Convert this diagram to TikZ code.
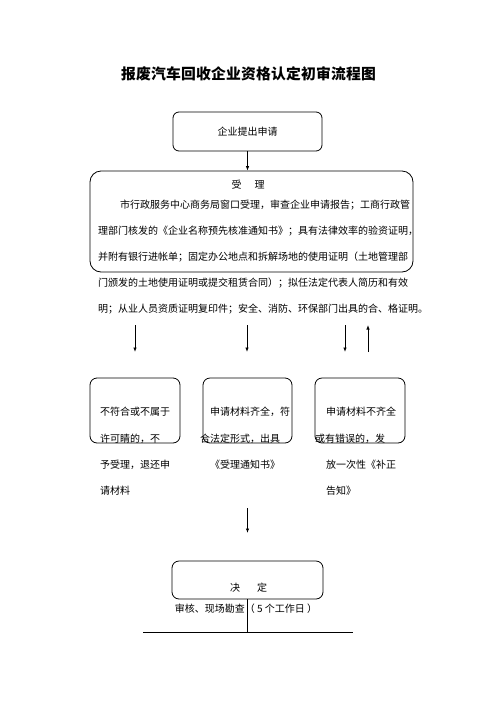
\documentclass[tikz,border=0pt]{standalone}
\usepackage{fontspec}
\setmainfont{Noto Sans CJK SC}
\usetikzlibrary{arrows.meta}
\newcommand{\tc}[1]{\makebox[15pt]{#1}}
\begin{document}
\begin{tikzpicture}[x=1pt,y=-1pt,
  box/.style={draw=black, line width=0.8pt, rounded corners=7pt, inner sep=0pt},
  txt/.style={anchor=base west, inner sep=0pt, font=\fontsize{10}{12}\selectfont},
  ctxt/.style={anchor=base, inner sep=0pt, font=\fontsize{10}{12}\selectfont},
  arr/.style={line width=0.8pt, -{Latex[length=4.5pt,width=3.5pt]}},
  ln/.style={line width=0.8pt}]
\useasboundingbox (0,0) rectangle (496,702);
% title
\node[anchor=base, inner sep=0pt, font=\fontsize{14.8}{18}\selectfont\bfseries] (title) at (248.5,79.5) {\tc{报}\tc{废}\tc{汽}\tc{车}\tc{回}\tc{收}\tc{企}\tc{业}\tc{资}\tc{格}\tc{认}\tc{定}\tc{初}\tc{审}\tc{流}\tc{程}\tc{图}};
% box 1
\node[box, minimum width=149pt, minimum height=39pt, rounded corners=6pt, font=\fontsize{10}{12}\selectfont] (b1) at (247.5,131.5) {企业提出申请};
% box 2
\node[box, minimum width=323pt, minimum height=101pt, rounded corners=11pt] (b2) at (251.5,221.5) {};
\draw[arr] (b1.south) -- (b1.south |- b2.north);
\node[ctxt] (t0) at (248,188) {受\hspace{13pt}理};
\node[txt] (t1) at (120,208) {市行政服务中心商务局窗口受理，审查企业申请报告；工商行政管};
\node[txt] (t2) at (98,234) {理部门核发的《企业名称预先核准通知书》；具有法律效率的验资证明，};
\node[txt] (t3) at (98,260) {并附有银行进帐单；固定办公地点和拆解场地的使用证明（土地管理部};
\node[txt] (t4) at (98,286) {门颁发的土地使用证明或提交租赁合同）；拟任法定代表人简历和有效};
\node[txt] (t5) at (98,312) {明；从业人员资质证明复印件；安全、消防、环保部门出具的合、格证明。};
% arrows row
\coordinate (a1s) at (135,325); \coordinate (a1e) at (135,352);
\coordinate (a2s) at (247,325); \coordinate (a2e) at (247,352);
\coordinate (a3s) at (345,325); \coordinate (a3e) at (345,352);
\coordinate (a4s) at (368,352); \coordinate (a4e) at (368,325);
\draw[arr] (a1s) -- (a1e);
\draw[arr] (a2s) -- (a2e);
\draw[arr] (a3s) -- (a3e);
\draw[arr] (a4s) -- (a4e);
% small boxes
\node[box, minimum width=90pt, minimum height=65pt] (bA) at (135,410.5) {};
\node[box, minimum width=89pt, minimum height=65pt] (bB) at (247.5,410.5) {};
\node[box, minimum width=90pt, minimum height=65pt] (bC) at (360,410.5) {};
\node[txt] (ta1) at (100,415) {不符合或不属于};
\node[txt] (ta2) at (100,442) {许可睛的，不};
\node[txt] (ta3) at (100,468) {予受理，退还申};
\node[txt] (ta4) at (100,494) {请材料};
\node[txt] (tb1) at (210,415) {申请材料齐全，符};
\node[txt] (tb2) at (200,442) {合法定形式，出具};
\node[txt] (tb3) at (210,468) {《受理通知书》};
\node[txt] (tc1) at (326,415) {申请材料不齐全};
\node[txt] (tc2) at (315,442) {或有错误的，发};
\node[txt] (tc3) at (326,468) {放一次性《补正};
\node[txt] (tc4) at (326,494) {告知》};
% arrow down to decision
\coordinate (a5s) at (247.5,508); \coordinate (a5e) at (247.5,533);
\draw[arr] (a5s) -- (a5e);
% box D
\node[box, minimum width=151pt, minimum height=38pt] (bD) at (247.5,580) {};
\node[ctxt] (td) at (248.5,591) {决\hspace{17pt}定};
\node[ctxt] (tdn) at (246,612) {审核、现场勘查（ 5 个工作日 ）};
\coordinate (jn) at (247.5,632);
\coordinate (hl) at (143,632);
\coordinate (hr) at (353,632);
\draw[ln] (bD.south) -- (jn);
\draw[ln] (hl) -- (hr);
\end{tikzpicture}
\end{document}
